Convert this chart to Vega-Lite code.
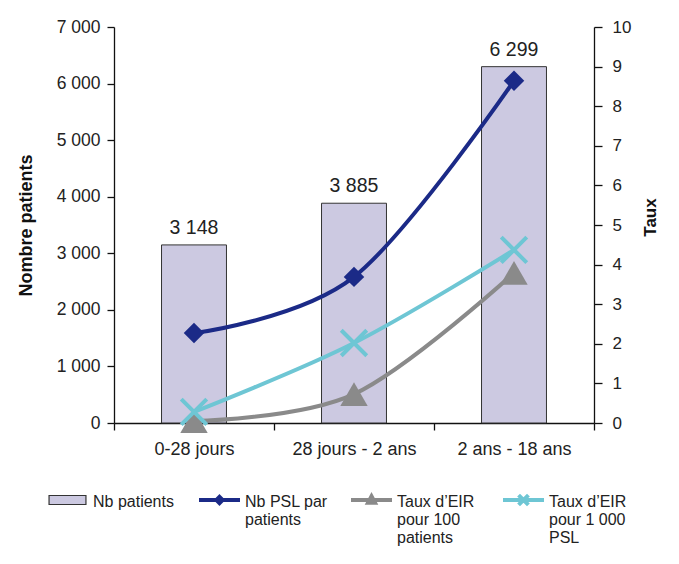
{
  "$schema": "https://vega.github.io/schema/vega-lite/v6.json",
  "width": 480,
  "height": 396,
  "autosize": {"type": "none"},
  "padding": {"left": 114, "top": 27, "right": 85, "bottom": 141},
  "background": "white",
  "datasets": {
    "bars": [
      {"cat": "0-28 jours", "patients": 3148},
      {"cat": "28 jours - 2 ans", "patients": 3885},
      {"cat": "2 ans - 18 ans", "patients": 6299}
    ],
    "rates": [
      {"cat": "0-28 jours", "serie": "Nb PSL par patients", "taux": 2.27},
      {"cat": "28 jours - 2 ans", "serie": "Nb PSL par patients", "taux": 3.69},
      {"cat": "2 ans - 18 ans", "serie": "Nb PSL par patients", "taux": 8.64},
      {"cat": "0-28 jours", "serie": "Taux d’EIR pour 100 patients", "taux": 0.05},
      {"cat": "28 jours - 2 ans", "serie": "Taux d’EIR pour 100 patients", "taux": 0.73},
      {"cat": "2 ans - 18 ans", "serie": "Taux d’EIR pour 100 patients", "taux": 3.79},
      {"cat": "0-28 jours", "serie": "Taux d’EIR pour 1 000 PSL", "taux": 0.28},
      {"cat": "28 jours - 2 ans", "serie": "Taux d’EIR pour 1 000 PSL", "taux": 2.02},
      {"cat": "2 ans - 18 ans", "serie": "Taux d’EIR pour 1 000 PSL", "taux": 4.37}
    ]
  },
  "config": {
    "locale": {"number": {"decimal": ",", "thousands": " ", "grouping": [3], "currency": ["", " €"]}},
    "font": "Liberation Sans",
    "view": {"stroke": null},
    "axis": {
      "domainColor": "#111",
      "tickColor": "#111",
      "labelColor": "#222",
      "titleColor": "#111",
      "grid": false,
      "labelFont": "Liberation Sans",
      "titleFont": "Liberation Sans",
      "domainWidth": 1.3,
      "tickWidth": 1.3
    }
  },
  "layer": [
    {
      "data": {"name": "bars"},
      "encoding": {
        "x": {
          "field": "cat",
          "type": "nominal",
          "scale": {"domain": ["0-28 jours", "28 jours - 2 ans", "2 ans - 18 ans"], "paddingInner": 0, "paddingOuter": 0},
          "axis": {"title": null, "labelAngle": 0, "labelFontSize": 18, "tickBand": "extent", "tickSize": 7, "labelPadding": 10}
        },
        "y": {
          "field": "patients",
          "type": "quantitative",
          "scale": {"domain": [0, 7000], "nice": false},
          "axis": {
            "values": [0, 1000, 2000, 3000, 4000, 5000, 6000, 7000],
            "format": ",d",
            "title": "Nombre patients",
            "titleFontSize": 18,
            "titleFontWeight": "bold",
            "titlePadding": 21,
            "labelFontSize": 17.5,
            "tickSize": 7,
            "labelPadding": 7
          }
        }
      },
      "layer": [
        {
          "mark": {"type": "bar", "width": {"band": 0.406}, "fill": "#CCC9E1", "stroke": "#333", "strokeWidth": 1}
        },
        {
          "mark": {"type": "text", "baseline": "alphabetic", "dy": -11, "fontSize": 19.5, "color": "#222"},
          "encoding": {"text": {"field": "patients", "type": "quantitative", "format": ",d"}}
        }
      ]
    },
    {
      "data": {"name": "rates"},
      "encoding": {
        "x": {
          "field": "cat",
          "type": "nominal",
          "scale": {"domain": ["0-28 jours", "28 jours - 2 ans", "2 ans - 18 ans"]}
        },
        "y": {
          "field": "taux",
          "type": "quantitative",
          "scale": {"domain": [0, 10], "nice": false},
          "axis": {
            "orient": "right",
            "values": [0, 1, 2, 3, 4, 5, 6, 7, 8, 9, 10],
            "title": "Taux",
            "titleAngle": -90,
            "titleFontSize": 17,
            "titleFontWeight": "bold",
            "titlePadding": 29,
            "titleY": 190,
            "labelFontSize": 17,
            "tickSize": 8,
            "labelPadding": 10
          }
        }
      },
      "layer": [
        {
          "mark": {"type": "line", "strokeWidth": 4, "interpolate": "cardinal", "tension": 0},
          "encoding": {
            "color": {
              "field": "serie",
              "type": "nominal",
              "scale": {
                "domain": ["Nb patients", "Nb PSL par patients", "Taux d’EIR pour 100 patients", "Taux d’EIR pour 1 000 PSL"],
                "range": ["#333333", "#1B2A87", "#8A8A8A", "#6EC6D4"]
              },
              "legend": {
                "title": null,
                "orient": "none",
                "legendX": -67,
                "legendY": 446,
                "direction": "horizontal",
                "columns": 4,
                "gridAlign": "all",
                "columnPadding": 15,
                "padding": 0,
                "symbolSize": 1681,
                "labelOffset": 5,
                "labelFontSize": 16,
                "labelFont": "Liberation Sans",
                "labelColor": "#222",
                "labelBaseline": "top",
                "labelLimit": 300,
                "labelExpr": "datum.label == 'Nb patients' ? ['Nb patients', ' ', ' '] : datum.label == 'Nb PSL par patients' ? ['Nb PSL par', 'patients', ' '] : datum.label == 'Taux d’EIR pour 100 patients' ? ['Taux d’EIR', 'pour 100', 'patients'] : ['Taux d’EIR', 'pour 1 000', 'PSL']",
                "encode": {
                  "symbols": {
                    "update": {
                      "x": {"value": 20.5},
                      "y": {"value": 27},
                      "shape": {"signal": "datum.value == 'Nb patients' ? 'M-0.9,-0.22H0.9V0.22H-0.9Z' : datum.value == 'Nb PSL par patients' ? 'M-1,0H1M0,-0.15L0.15,0L0,0.15L-0.15,0Z' : datum.value == 'Taux d’EIR pour 100 patients' ? 'M-1,0H1M0,-0.18L0.17,0.14H-0.17Z' : 'M-1,0H1M-0.24,-0.24L0.24,0.24M-0.24,0.24L0.24,-0.24'"},
                      "fill": {"signal": "datum.value == 'Nb patients' ? '#CCC9E1' : scale('color', datum.value)"},
                      "stroke": {"signal": "scale('color', datum.value)"},
                      "strokeWidth": {"signal": "datum.value == 'Nb patients' ? 1.2 : 4"},
                      "opacity": {"value": 1},
                      "fillOpacity": {"value": 1},
                      "strokeOpacity": {"value": 1}
                    }
                  },
                  "labels": {
                    "update": {
                      "x": {"value": 46},
                      "y": {"value": 21},
                      "dy": {"value": 0},
                      "baseline": {"value": "top"},
                      "lineHeight": {"value": 18}
                    }
                  }
                }
              }
            }
          }
        },
        {
          "transform": [{"filter": "datum.serie == 'Nb PSL par patients'"}],
          "mark": {"type": "point", "shape": "diamond", "filled": true, "size": 420, "color": "#1B2A87", "opacity": 1}
        },
        {
          "transform": [{"filter": "datum.serie == 'Taux d’EIR pour 100 patients'"}],
          "mark": {"type": "point", "shape": "triangle-up", "filled": true, "size": 750, "color": "#8A8A8A", "opacity": 1}
        },
        {
          "transform": [{"filter": "datum.serie == 'Taux d’EIR pour 1 000 PSL'"}],
          "mark": {"type": "point", "shape": "M-1,-1L1,1M-1,1L1,-1", "filled": false, "size": 650, "color": "#6EC6D4", "strokeWidth": 4, "opacity": 1}
        }
      ]
    }
  ],
  "resolve": {"scale": {"y": "independent"}}
}
